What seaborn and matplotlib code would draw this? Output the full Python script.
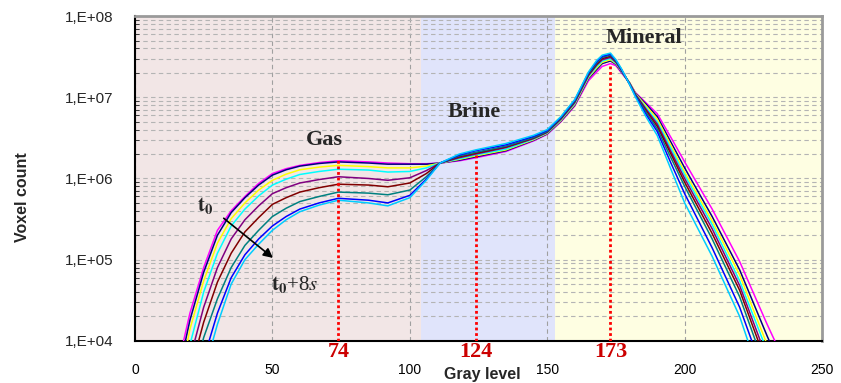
import numpy as np
import pandas as pd
import matplotlib
matplotlib.use('Agg')
import matplotlib.pyplot as plt
import seaborn as sns
from matplotlib.ticker import LogLocator, FixedLocator, FuncFormatter

gray = [15, 20, 25, 30, 35, 40, 45, 50, 55, 60, 67, 74, 85, 92, 100, 106, 111, 118, 124, 135, 145,
        150, 155, 160, 165, 168, 170, 173, 175, 177, 180, 182, 186, 190, 195, 200, 210, 220, 230, 240]

# Voxel counts, one list per scan (t0 ... t0+8s)
c0 = [4e3, 2.2e4, 8e4, 2.3e5, 4.0e5, 6.0e5, 8.7e5, 1.15e6, 1.32e6, 1.45e6, 1.57e6, 1.65e6, 1.6e6, 1.55e6, 1.52e6, 1.52e6, 1.55e6, 1.65e6, 1.8e6, 2.15e6, 2.9e6,
      3.5e6, 5.0e6, 7.8e6, 1.6e7, 2.05e7, 2.4e7, 2.6e7, 2.45e7, 2.0e7, 1.5e7, 1.15e7, 8.5e6, 6.3e6, 3.2e6, 1.6e6, 4.2e5, 9.5e4, 1.6e4, 3e3]
c1 = [3e3, 1.8e4, 7e4, 2.0e5, 3.8e5, 5.8e5, 8.3e5, 1.1e6, 1.28e6, 1.42e6, 1.53e6, 1.6e6, 1.55e6, 1.5e6, 1.5e6, 1.5e6, 1.55e6, 1.68e6, 1.85e6, 2.2e6, 2.95e6,
      3.55e6, 5.1e6, 8.0e6, 1.7e7, 2.2e7, 2.6e7, 2.8e7, 2.55e7, 2.05e7, 1.5e7, 1.13e7, 8.2e6, 5.8e6, 2.8e6, 1.35e6, 3.4e5, 7.5e4, 1.15e4, 2e3]
c2 = [2e3, 1.4e4, 5.5e4, 1.6e5, 3.2e5, 5.0e5, 7.2e5, 9.5e5, 1.13e6, 1.28e6, 1.38e6, 1.45e6, 1.4e6, 1.35e6, 1.35e6, 1.42e6, 1.55e6, 1.72e6, 1.9e6, 2.25e6, 3.0e6,
      3.6e6, 5.2e6, 8.2e6, 1.75e7, 2.3e7, 2.7e7, 2.9e7, 2.6e7, 2.1e7, 1.5e7, 1.12e7, 7.8e6, 5.4e6, 2.55e6, 1.2e6, 3.0e5, 6.5e4, 9e3, 1.5e3]
c3 = [1.5e3, 9e3, 4e4, 1.2e5, 2.6e5, 4.2e5, 6.1e5, 8.3e5, 9.8e5, 1.12e6, 1.22e6, 1.3e6, 1.27e6, 1.2e6, 1.22e6, 1.35e6, 1.55e6, 1.75e6, 1.95e6, 2.3e6, 3.05e6,
      3.65e6, 5.3e6, 8.4e6, 1.8e7, 2.4e7, 2.8e7, 3.0e7, 2.65e7, 2.1e7, 1.48e7, 1.1e7, 7.4e6, 5.0e6, 2.35e6, 1.1e6, 2.7e5, 5.5e4, 7.5e3, 1.2e3]
c4 = [1e3, 6e3, 2.6e4, 8e4, 1.8e5, 3.1e5, 4.6e5, 6.5e5, 7.7e5, 8.8e5, 9.7e5, 1.05e6, 1.0e6, 9.5e5, 1.02e6, 1.25e6, 1.55e6, 1.8e6, 2.0e6, 2.4e6, 3.1e6,
      3.7e6, 5.4e6, 8.6e6, 1.85e7, 2.5e7, 2.9e7, 3.1e7, 2.7e7, 2.15e7, 1.47e7, 1.1e7, 7.1e6, 4.7e6, 2.15e6, 1.0e6, 2.4e5, 4.8e4, 6e3, 1e3]
c5 = [7e2, 4e3, 1.7e4, 5.3e4, 1.2e5, 2.2e5, 3.3e5, 4.8e5, 5.8e5, 6.8e5, 7.7e5, 8.5e5, 8.3e5, 7.9e5, 8.8e5, 1.15e6, 1.55e6, 1.85e6, 2.05e6, 2.45e6, 3.15e6,
      3.75e6, 5.5e6, 8.8e6, 1.9e7, 2.55e7, 3.0e7, 3.2e7, 2.75e7, 2.15e7, 1.46e7, 1.08e7, 6.8e6, 4.4e6, 2.0e6, 9e5, 2.1e5, 4.2e4, 5e3, 8e2]
c6 = [5e2, 2.5e3, 1.1e4, 3.3e4, 8e4, 1.5e5, 2.3e5, 3.4e5, 4.3e5, 5.2e5, 6.0e5, 6.8e5, 6.6e5, 6.3e5, 7.2e5, 1.05e6, 1.55e6, 1.9e6, 2.1e6, 2.5e6, 3.2e6,
      3.8e6, 5.6e6, 9.0e6, 1.95e7, 2.65e7, 3.1e7, 3.3e7, 2.8e7, 2.2e7, 1.45e7, 1.07e7, 6.5e6, 4.1e6, 1.8e6, 8e5, 1.8e5, 3.5e4, 4e3, 6e2]
c7 = [4e2, 1.5e3, 6e3, 2.2e4, 6e4, 1.15e5, 1.8e5, 2.6e5, 3.4e5, 4.2e5, 5.0e5, 5.7e5, 5.4e5, 5.0e5, 6.2e5, 9.8e5, 1.55e6, 1.95e6, 2.2e6, 2.6e6, 3.3e6,
      3.9e6, 5.7e6, 9.2e6, 2.0e7, 2.75e7, 3.2e7, 3.4e7, 2.85e7, 2.2e7, 1.44e7, 1.05e7, 6.1e6, 3.8e6, 1.55e6, 6.5e5, 1.4e5, 2.6e4, 3e3, 5e2]
c8 = [3e2, 1e3, 4e3, 1.6e4, 5e4, 1.0e5, 1.55e5, 2.3e5, 3.1e5, 3.9e5, 4.7e5, 5.4e5, 5.0e5, 4.6e5, 5.8e5, 9.5e5, 1.55e6, 2.0e6, 2.25e6, 2.7e6, 3.4e6,
      4.0e6, 5.8e6, 9.4e6, 2.05e7, 2.85e7, 3.3e7, 3.5e7, 2.9e7, 2.25e7, 1.43e7, 1.02e7, 5.7e6, 3.4e6, 1.3e6, 5.0e5, 1.1e5, 2.0e4, 2e3, 4e2]
scans = [c0, c1, c2, c3, c4, c5, c6, c7, c8]
colors = ['#ff00ff', '#000080', '#ffff00', '#00ffff', '#800080', '#800000', '#008080', '#0000ff', '#00ccff']

# phase windows and characteristic gray levels
phases = [(0, 104, '#f2e6e6'), (104, 153, '#e0e4fb'), (153, 250, '#fefee2')]
peaks = [74, 124, 173]
peak_tops = [1.7e6, 1.95e6, 2.6e7]

df = pd.concat([pd.DataFrame({'gray': gray, 'count': s, 'scan': i}) for i, s in enumerate(scans)])

sns.set_style('white')
plt.rcParams['mathtext.fontset'] = 'stix'
fig = plt.figure(figsize=(8.41, 3.83), dpi=100)
ax = fig.add_axes([0.1605, 0.11, 0.817, 0.848])

for x0, x1, col in phases:
    ax.axvspan(x0, x1, color=col, lw=0, zorder=0)

ax.set_yscale('log')
sns.lineplot(data=df, x='gray', y='count', hue='scan', palette=colors, legend=False,
             linewidth=1.1, ax=ax, zorder=3)

for p, top in zip(peaks, peak_tops):
    ax.plot([p, p], [1e4, top], color='red', ls=(0, (1, 1)), lw=2, zorder=4)

ax.set_xlim(0, 250)
ax.set_ylim(1e4, 1e8)
ax.xaxis.set_major_locator(FixedLocator([0, 50, 100, 150, 200, 250]))
ax.yaxis.set_major_locator(LogLocator(base=10, numticks=10))
ax.yaxis.set_minor_locator(LogLocator(base=10, subs=np.arange(2, 10), numticks=20))
ax.yaxis.set_major_formatter(FuncFormatter(lambda v, p: '1,E+%02d' % round(np.log10(v))))
ax.yaxis.set_minor_formatter(FuncFormatter(lambda v, p: ''))

ax.grid(True, which='major', axis='x', color='#a0a0a0', ls=(0, (4, 3)), lw=0.8)
ax.grid(True, which='both', axis='y', color='#b4b4b4', ls=(0, (4, 3)), lw=0.8)
ax.set_axisbelow(True)

ax.tick_params(axis='x', which='major', direction='in', length=4, pad=16, labelsize=10, colors='black')
ax.tick_params(axis='y', which='major', direction='inout', length=7, pad=12, labelsize=11)
ax.tick_params(axis='y', which='minor', direction='in', length=3, left=True)
for lab in ax.get_xticklabels() + ax.get_yticklabels():
    lab.set_family('Liberation Sans')

for s in ['left', 'bottom']:
    ax.spines[s].set_color('black')
    ax.spines[s].set_linewidth(1.5)
for s in ['top', 'right']:
    ax.spines[s].set_color('#9a9a9a')
    ax.spines[s].set_linewidth(2)

serif = 'Liberation Serif'
for p in peaks:
    ax.annotate(str(p), xy=(p, 1e4), xytext=(0, -1), textcoords='offset points',
                ha='center', va='top', color='#cc0000', fontsize=16, fontweight='bold', family=serif)

ax.text(69, 3.0e6, 'Gas', ha='center', va='center', fontsize=16, fontweight='bold', family=serif)
ax.text(123.5, 6.6e6, 'Brine', ha='center', va='center', fontsize=16, fontweight='bold', family=serif)
ax.text(185, 5.4e7, 'Mineral', ha='center', va='center', fontsize=16, fontweight='bold', family=serif)
ax.text(25.5, 4.7e5, r'$\mathbf{t_0}$', ha='center', va='center', fontsize=15, family=serif)
ax.text(58, 4.9e4, r'$\mathbf{t_0}$+8$s$', ha='center', va='center', fontsize=15, family=serif)
ax.annotate('', xy=(51, 1.0e5), xytext=(31.5, 3.4e5),
            arrowprops=dict(arrowstyle='-|>', color='black', lw=1.2, mutation_scale=14))

ax.set_xlabel('')
ax.set_ylabel('')
fig.text(0.573, 0.003, 'Gray level', ha='center', va='bottom', fontsize=11.5,
         fontweight='bold', family='Liberation Sans')
fig.text(0.027, 0.485, 'Voxel count', ha='center', va='center', rotation=90, fontsize=11.5,
         fontweight='bold', family='Liberation Sans')

fig.savefig('out.png', dpi=100)
